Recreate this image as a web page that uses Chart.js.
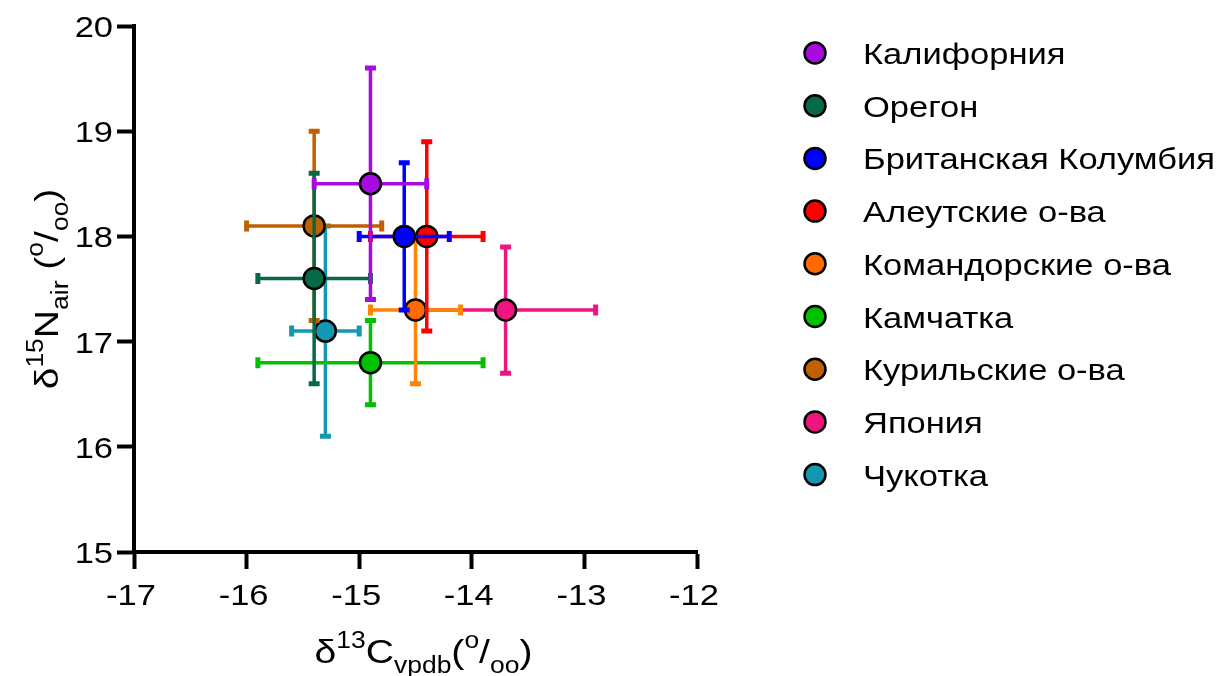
<!DOCTYPE html>
<html>
<head>
<meta charset="utf-8">
<script src="https://cdn.jsdelivr.net/npm/chart.js@4.4.1/dist/chart.umd.min.js"></script>
<style>
  body { margin: 0; background: #fff; }
  canvas { display: block; }
</style>
</head>
<body>
<canvas id="isotopes" width="1223" height="676"></canvas>
<script>
// regions
var regions = ['Калифорния', 'Орегон', 'Британская Колумбия', 'Алеутские о-ва', 'Командорские о-ва',
  'Камчатка', 'Курильские о-ва', 'Япония', 'Чукотка'];

// means (d13C, d15N)
var c13 = [-14.9, -15.4, -14.6, -14.4, -14.5, -14.9, -15.4, -13.7, -15.3];
var n15 = [18.5, 17.6, 18.0, 18.0, 17.3, 16.8, 18.1, 17.3, 17.1];

// error bar ends
var c13Low = [-15.4, -15.9, -15.0, -14.9, -14.9, -15.9, -16.0, -14.5, -15.6];
var c13High = [-14.4, -14.9, -14.2, -13.9, -14.1, -13.9, -14.8, -12.9, -15.0];
var n15Low = [17.4, 16.6, 17.3, 17.1, 16.6, 16.4, 17.2, 16.7, 16.1];
var n15High = [19.6, 18.6, 18.7, 18.9, 18.0, 17.2, 19.0, 17.9, 18.1];

var pointColors = ['#A60BE0', '#066A46', '#0000FF', '#FF0000', '#FF6A00', '#00C000', '#C06000', '#F0147F', '#1497B3'];
var barColors = ['#A60BE0', '#066A46', '#0000FF', '#FF0000', '#FF8400', '#00C000', '#C06000', '#F0147F', '#1497B3'];

var FONT = '"Liberation Sans", Arial, sans-serif';
var SX = 1.15; // text in the original is a bit wide

var datasets = regions.map(function (name, i) {
  return {
    label: name,
    data: [{ x: c13[i], y: n15[i], xMin: c13Low[i], xMax: c13High[i], yMin: n15Low[i], yMax: n15High[i] }],
    backgroundColor: pointColors[i],
    borderColor: '#000',
    borderWidth: 2.5,
    pointRadius: 10.5,
    pointHoverRadius: 10.5
  };
});

// error bars, drawn under each dataset's point
var errorBars = {
  id: 'errorBars',
  beforeDatasetDraw: function (chart, args) {
    var ctx = chart.ctx;
    var xs = chart.scales.x, ys = chart.scales.y;
    var cap = 5.5;
    ctx.save();
    ctx.strokeStyle = barColors[args.index];
    chart.data.datasets[args.index].data.forEach(function (d) {
      var px = xs.getPixelForValue(d.x), py = ys.getPixelForValue(d.y);
      var x0 = xs.getPixelForValue(d.xMin), x1 = xs.getPixelForValue(d.xMax);
      var y0 = ys.getPixelForValue(d.yMin), y1 = ys.getPixelForValue(d.yMax);
      ctx.lineWidth = 3.5;
      ctx.beginPath();
      ctx.moveTo(x0, py); ctx.lineTo(x1, py);
      ctx.moveTo(px, y0); ctx.lineTo(px, y1);
      ctx.stroke();
      ctx.lineWidth = 5;
      ctx.beginPath();
      ctx.moveTo(x0, py - cap); ctx.lineTo(x0, py + cap);
      ctx.moveTo(x1, py - cap); ctx.lineTo(x1, py + cap);
      ctx.moveTo(px - cap, y0); ctx.lineTo(px + cap, y0);
      ctx.moveTo(px - cap, y1); ctx.lineTo(px + cap, y1);
      ctx.stroke();
    });
    ctx.restore();
  }
};

// stretched text helpers
function textW(ctx, s) { return ctx.measureText(s).width * SX; }
function fillW(ctx, s, x, y) {
  ctx.save();
  ctx.translate(x, y);
  ctx.scale(SX, 1);
  ctx.fillText(s, 0, 0);
  ctx.restore();
}

// text with super/subscripts
function richWidth(ctx, parts) {
  var w = 0;
  parts.forEach(function (p) {
    ctx.font = (p[1] ? 23 : 34) + 'px ' + FONT;
    w += textW(ctx, p[0]);
  });
  return w;
}
function drawRich(ctx, parts, x, y) {
  parts.forEach(function (p) {
    ctx.font = (p[1] ? 23 : 34) + 'px ' + FONT;
    var dy = p[1] === 'sup' ? -15 : (p[1] === 'sub' ? 10 : 0);
    fillW(ctx, p[0], x, y + dy);
    x += textW(ctx, p[0]);
  });
}

var xTitle = [['δ', ''], ['13', 'sup'], ['C', ''], ['vpdb', 'sub'], ['(', ''], ['o', 'sup'], ['/', ''], ['oo', 'sub'], [')', '']];
var yTitle = [['δ', ''], ['15', 'sup'], ['N', ''], ['air', 'sub'], [' (', ''], ['o', 'sup'], ['/', ''], ['oo', 'sub'], [')', '']];

var labelsAndLegend = {
  id: 'labelsAndLegend',
  afterDraw: function (chart) {
    var ctx = chart.ctx;
    var area = chart.chartArea;
    var xs = chart.scales.x, ys = chart.scales.y;
    ctx.save();
    ctx.fillStyle = '#000';
    ctx.textBaseline = 'alphabetic';
    ctx.textAlign = 'left';

    // tick labels
    ctx.font = '30px ' + FONT;
    xs.ticks.forEach(function (t) {
      var px = xs.getPixelForValue(t.value);
      fillW(ctx, t.label, px - 3 - textW(ctx, t.label) / 2, 605);
    });
    ys.ticks.forEach(function (t) {
      var py = ys.getPixelForValue(t.value);
      fillW(ctx, t.label, 113 - textW(ctx, t.label), py + 11);
    });

    // axis titles
    var w = richWidth(ctx, xTitle);
    drawRich(ctx, xTitle, (area.left + area.right) / 2 + 8 - w / 2, 663);

    ctx.save();
    ctx.translate(58, (area.top + area.bottom) / 2);
    ctx.rotate(-Math.PI / 2);
    w = richWidth(ctx, yTitle);
    drawRich(ctx, yTitle, -w / 2, 0);
    ctx.restore();

    // legend
    chart.data.datasets.forEach(function (ds, i) {
      var ly = 53 + i * 52.7;
      ctx.beginPath();
      ctx.arc(815, ly, 10.5, 0, Math.PI * 2);
      ctx.fillStyle = ds.backgroundColor;
      ctx.fill();
      ctx.lineWidth = 2.5;
      ctx.strokeStyle = '#000';
      ctx.stroke();
      ctx.fillStyle = '#000';
      ctx.font = '30px ' + FONT;
      fillW(ctx, ds.label, 863, ly + 11);
    });
    ctx.restore();
  }
};

new Chart(document.getElementById('isotopes'), {
  type: 'scatter',
  data: { datasets: datasets },
  plugins: [errorBars, labelsAndLegend],
  options: {
    responsive: false,
    animation: false,
    layout: { padding: { top: 26, right: 526, left: 0, bottom: 0 } },
    plugins: { legend: { display: false }, tooltip: { enabled: false } },
    scales: {
      x: {
        min: -17, max: -12,
        ticks: { stepSize: 1, display: false },
        grid: { drawOnChartArea: false, tickLength: 17, tickWidth: 4, tickColor: '#000' },
        border: { color: '#000', width: 4 },
        afterFit: function (s) { s.height = 124; }
      },
      y: {
        min: 15, max: 20,
        ticks: { stepSize: 1, display: false },
        grid: { drawOnChartArea: false, tickLength: 17, tickWidth: 4, tickColor: '#000' },
        border: { color: '#000', width: 4 },
        afterFit: function (s) { s.width = 134; }
      }
    }
  }
});
</script>
</body>
</html>
